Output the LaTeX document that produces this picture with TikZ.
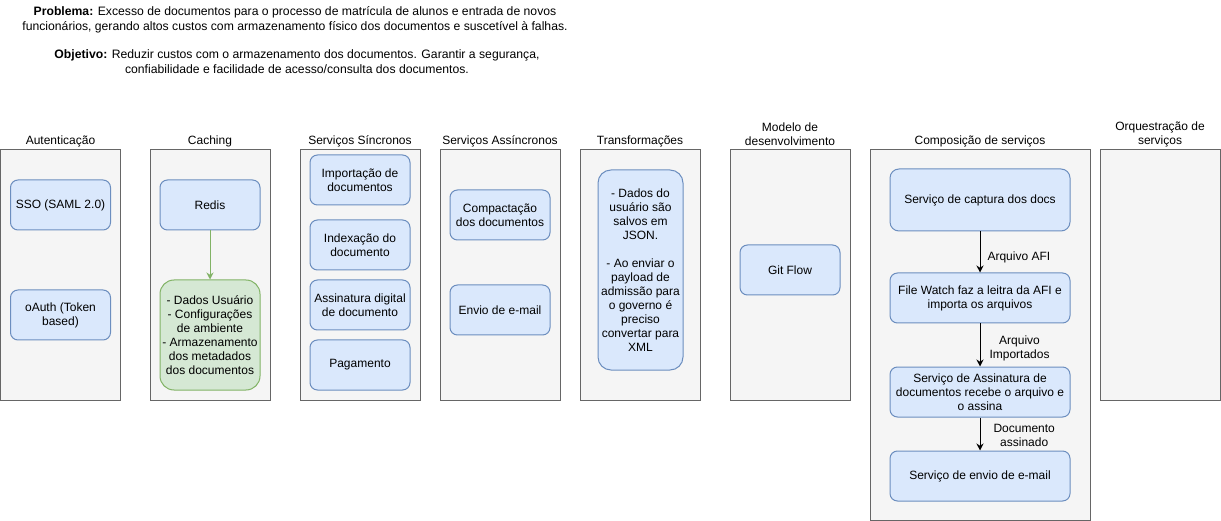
\documentclass[tikz,border=0pt]{standalone}
\usepackage{fontspec}
\setmainfont{Liberation Sans}
\usetikzlibrary{arrows.meta}
\newcommand{\dgfont}{\fontsize{12pt}{14pt}\selectfont}
\definecolor{contstroke}{HTML}{666666}
\definecolor{contfill}{HTML}{F5F5F5}
\definecolor{bluefill}{HTML}{DAE8FC}
\definecolor{bluestroke}{HTML}{6C8EBF}
\definecolor{greenfill}{HTML}{D5E8D4}
\definecolor{greenstroke}{HTML}{82B366}
\tikzset{
  cont/.style={draw=contstroke, fill=contfill, line width=1pt, inner sep=0pt, minimum width=120pt},
  bbox/.style={draw=bluestroke, fill=bluefill, rounded corners=7.5pt, line width=1pt, align=center, inner sep=0pt, font=\dgfont},
  gbox/.style={draw=greenstroke, fill=greenfill, rounded corners=14pt, line width=1pt, align=center, inner sep=0pt, font=\dgfont},
  ttl/.style={align=center, font=\dgfont, inner sep=0pt},
  arr/.style={-{Stealth[length=7pt,width=7pt]}, line width=1pt},
  elbl/.style={align=center, font=\dgfont, inner sep=0pt, anchor=west},
}
\begin{document}
\begin{tikzpicture}[x=1pt,y=-1pt]
\useasboundingbox (0,0) rectangle (1221,521);

% top texts
\node[ttl, font=\fontsize{12.2pt}{15pt}\selectfont] (prob) at (295,19.5) {\textbf{Problema:} Excesso de documentos para o processo de matrícula de alunos e entrada de novos\\funcionários, gerando altos custos com armazenamento físico dos documentos e suscetível à falhas.};
\node[ttl, font=\fontsize{12.2pt}{15pt}\selectfont] (obj) at (297,61.5) {\textbf{Objetivo:} Reduzir custos com o armazenamento dos documentos. Garantir a segurança,\\confiabilidade e facilidade de acesso/consulta dos documentos.};

% containers
\node[cont, minimum height=250pt] (auth) at (60.5,275) {};
\node[cont, minimum height=250pt] (cach) at (210,275) {};
\node[cont, minimum height=250pt] (sync) at (360,275) {};
\node[cont, minimum height=250pt] (async) at (500,275) {};
\node[cont, minimum height=250pt] (trans) at (640,275) {};
\node[cont, minimum height=250pt] (model) at (790,275) {};
\node[cont, minimum width=220pt, minimum height=370pt] (comp) at (980,335) {};
\node[cont, minimum height=250pt] (orq) at (1160,275) {};

% titles
\node[ttl] (tauth) at (60.5,141) {Autenticação};
\node[ttl] (tcach) at (210,141) {Caching};
\node[ttl] (tsync) at (360,141) {Serviços Síncronos};
\node[ttl] (tasync) at (500,141) {Serviços Assíncronos};
\node[ttl] (ttrans) at (640,141) {Transformações};
\node[ttl] (tmodel) at (790,134) {Modelo de\\desenvolvimento};
\node[ttl] (tcomp) at (980,141) {Composição de serviços};
\node[ttl] (torq) at (1160,134) {Orquestração de\\serviços};

% Autenticação
\node[bbox, minimum width=100pt, minimum height=50pt] (sso) at (60.5,205) {SSO (SAML 2.0)};
\node[bbox, minimum width=100pt, minimum height=50pt] (oauth) at (60.5,315) {oAuth (Token\\based)};

% Caching
\node[bbox, minimum width=100pt, minimum height=50pt] (redis) at (210,205) {Redis};
\node[gbox, minimum width=100pt, minimum height=110pt] (cdata) at (210,335) {- Dados Usuário\\- Configurações\\de ambiente\\- Armazenamento\\dos metadados\\dos documentos};
\draw[arr, draw=greenstroke, fill=greenstroke] (redis) -- (cdata);

% Serviços Síncronos
\node[bbox, minimum width=100pt, minimum height=50pt] (imp) at (360,180) {Importação de\\documentos};
\node[bbox, minimum width=100pt, minimum height=50pt] (idx) at (360,245) {Indexação do\\documento};
\node[bbox, minimum width=100pt, minimum height=50pt] (assd) at (360,305) {Assinatura digital\\de documento};
\node[bbox, minimum width=100pt, minimum height=50pt] (pag) at (360,365) {Pagamento};

% Serviços Assíncronos
\node[bbox, minimum width=100pt, minimum height=50pt] (compc) at (500,215) {Compactação\\dos documentos};
\node[bbox, minimum width=100pt, minimum height=50pt] (email) at (500,310) {Envio de e-mail};

% Transformações
\node[bbox, rounded corners=13pt, minimum width=85pt, minimum height=200pt] (tdata) at (640.5,270) {- Dados do\\usuário são\\salvos em\\JSON.\\[14pt]- Ao enviar o\\payload de\\admissão para\\o governo é\\preciso\\convertar para\\XML};

% Modelo
\node[bbox, minimum width=100pt, minimum height=50pt] (git) at (790,270) {Git Flow};

% Composição
\node[bbox, rounded corners=9pt, minimum width=180pt, minimum height=62pt] (cap) at (980,200) {Serviço de captura dos docs};
\node[bbox, minimum width=180pt, minimum height=50pt] (fw) at (980,298) {File Watch faz a leitra da AFI e\\importa os arquivos};
\node[bbox, minimum width=180pt, minimum height=50pt] (sig) at (980,392) {Serviço de Assinatura de\\documentos recebe o arquivo e\\o assina};
\node[bbox, minimum width=180pt, minimum height=50pt] (env) at (980,476) {Serviço de envio de e-mail};

\draw[arr] (cap) -- node[elbl, pos=0.62, xshift=7pt] (l1) {Arquivo AFI} (fw);
\draw[arr] (fw) -- node[elbl, pos=0.58, xshift=9pt] (l2) {Arquivo\\Importados} (sig);
\draw[arr] (sig) -- node[elbl, pos=0.53, xshift=13pt] (l3) {Documento\\assinado} (env);
\end{tikzpicture}
\end{document}
